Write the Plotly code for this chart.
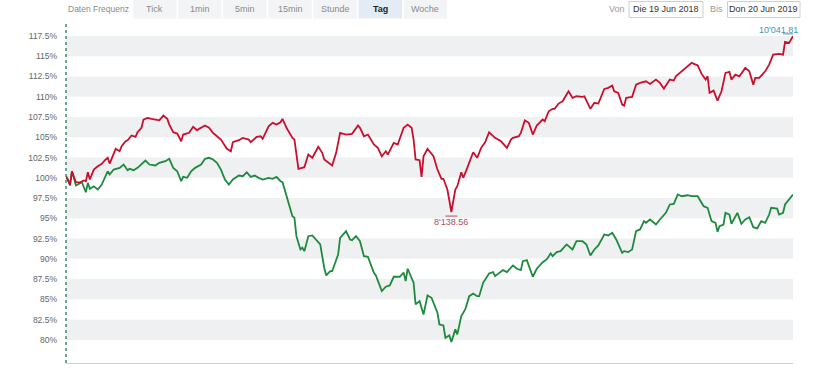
import pandas as pd
import plotly.graph_objects as go

# ---------------- data ----------------
start_date = "2018-06-19"

red_days = [0, 2, 3, 5, 7, 9, 10, 11, 12, 14, 16, 18, 20, 21, 22, 24, 25, 27, 28, 30, 31, 33, 35, 36, 38, 39, 41, 43, 46, 47,
            49, 51, 52, 54, 56, 58, 59, 62, 64, 66, 67, 70, 72, 74, 76, 78, 81, 83, 84, 87, 89, 92, 93, 96, 98, 99, 102, 104,
            106, 108, 109, 111, 114, 115, 117, 119, 120, 122, 124, 127, 129, 130, 134, 136, 138, 141, 144, 147, 148, 150, 152,
            155, 157, 159, 161, 162, 165, 167, 170, 172, 174, 175, 176, 178, 179, 180, 182, 185, 187, 189, 190, 192, 194, 196,
            197, 199, 200, 202, 205, 207, 209, 211, 213, 216, 219, 222, 224, 225, 228, 229, 231, 233, 235, 237, 240, 241, 243,
            245, 246, 248, 250, 253, 255, 257, 260, 261, 264, 266, 268, 271, 273, 275, 276, 278, 280, 281, 282, 285, 287, 289,
            292, 294, 297, 299, 301, 304, 306, 307, 310, 313, 315, 317, 318, 320, 322, 323, 324, 326, 328, 330, 332, 334, 335,
            337, 339, 342, 344, 346, 347, 349, 352, 354, 356, 359, 361, 362, 364, 366]
red_vals = [100.20, 99.17, 100.81, 99.46, 99.42, 99.67, 99.58, 100.69, 99.79, 101.02, 101.43, 101.73, 102.26, 102.47, 101.76,
            103.08, 103.58, 103.28, 103.90, 104.51, 104.64, 105.22, 105.06, 105.62, 106.17, 107.19, 107.40, 107.27, 107.19,
            107.10, 107.68, 107.27, 106.57, 105.62, 105.46, 104.51, 105.34, 105.55, 106.29, 105.87, 106.04, 106.45, 106.17,
            105.55, 105.13, 104.72, 103.58, 103.28, 104.39, 104.64, 104.93, 104.72, 104.39, 105.06, 105.13, 104.81, 106.36,
            106.78, 106.57, 106.86, 107.27, 106.17, 104.93, 104.72, 101.11, 101.23, 101.31, 102.87, 102.47, 103.82, 103.08,
            102.26, 101.52, 103.08, 105.55, 105.34, 105.43, 106.45, 106.17, 105.13, 105.34, 104.11, 103.70, 102.66, 103.28,
            102.87, 104.32, 104.11, 106.17, 106.57, 106.17, 104.72, 102.26, 102.17, 100.12, 102.66, 103.58, 102.66, 101.02,
            99.88, 99.88, 98.56, 95.78, 98.56, 98.96, 100.69, 100.00, 101.23, 103.16, 102.47, 103.70, 104.39, 105.62, 104.93,
            104.51, 103.70, 104.72, 104.93, 105.13, 105.55, 107.10, 106.78, 105.34, 106.45, 107.19, 106.98, 108.21, 108.51,
            108.51, 109.16, 109.44, 110.68, 109.86, 110.06, 109.99, 110.06, 108.51, 109.25, 109.16, 110.97, 111.10, 111.38,
            110.68, 110.48, 109.04, 108.91, 109.86, 109.99, 111.50, 111.71, 111.91, 111.59, 112.12, 111.71, 111.01, 112.12,
            112.00, 112.53, 113.14, 113.76, 114.18, 113.97, 113.88, 112.82, 112.12, 112.53, 110.48, 110.76, 109.53, 110.68,
            112.95, 113.07, 112.12, 112.74, 112.53, 113.56, 113.14, 111.50, 112.33, 112.33, 113.14, 113.97, 115.20, 115.29,
            115.20, 116.77, 116.65, 117.46]

green_days = [0, 1, 2, 3, 5, 7, 8, 10, 11, 12, 14, 16, 18, 21, 22, 24, 27, 29, 31, 32, 34, 36, 38, 40, 42, 45, 47, 50, 52, 54,
              56, 58, 59, 61, 63, 65, 68, 70, 72, 74, 76, 78, 80, 82, 84, 87, 89, 91, 93, 95, 97, 99, 102, 104, 106, 108, 109,
              112, 114, 115, 116, 118, 119, 120, 122, 124, 126, 128, 130, 131, 133, 134, 137, 138, 141, 143, 144, 146, 148, 150,
              152, 155, 156, 159, 161, 163, 165, 168, 170, 171, 172, 175, 176, 178, 180, 182, 184, 187, 188, 190, 191, 193, 194,
              196, 197, 199, 201, 203, 205, 207, 208, 210, 213, 215, 216, 218, 220, 222, 225, 227, 229, 230, 232, 235, 237, 240,
              242, 244, 245, 247, 249, 252, 255, 257, 260, 262, 264, 266, 268, 271, 273, 275, 277, 280, 281, 283, 285, 287, 289,
              291, 292, 294, 297, 299, 302, 304, 306, 308, 310, 313, 315, 318, 319, 321, 323, 325, 327, 328, 329, 331, 332, 334,
              335, 337, 338, 340, 342, 344, 346, 348, 350, 352, 354, 355, 358, 359, 361, 362, 364, 366]
green_vals = [100.20, 99.79, 99.05, 100.81, 99.05, 99.30, 99.46, 98.22, 99.38, 98.64, 98.96, 98.56, 99.17, 100.81, 100.41,
              101.02, 101.23, 101.64, 100.94, 101.11, 100.94, 101.23, 101.64, 102.13, 101.64, 101.52, 101.85, 102.05, 102.34,
              101.23, 100.81, 99.58, 100.12, 100.00, 100.81, 101.23, 101.64, 102.34, 102.47, 102.26, 101.85, 101.02, 99.79,
              99.17, 99.79, 100.28, 100.20, 100.69, 100.12, 100.28, 100.00, 99.79, 100.00, 99.88, 100.12, 99.58, 99.46, 97.11,
              95.27, 95.07, 92.80, 91.16, 91.37, 90.95, 92.80, 92.89, 92.39, 91.78, 88.90, 87.95, 88.48, 88.48, 90.54, 92.60,
              93.42, 92.39, 92.31, 92.80, 92.18, 90.33, 90.26, 88.29, 87.95, 86.02, 86.56, 86.72, 87.79, 87.79, 88.29, 87.25,
              88.78, 87.05, 84.38, 84.78, 83.14, 85.49, 85.20, 83.35, 81.91, 81.79, 80.27, 80.56, 79.73, 81.30, 80.68, 82.94,
              83.76, 85.40, 85.73, 85.40, 85.40, 87.05, 88.20, 88.36, 87.87, 88.29, 88.61, 88.36, 89.19, 88.78, 88.61, 89.72,
              89.84, 87.79, 88.78, 89.59, 89.93, 90.67, 90.33, 90.83, 90.95, 91.78, 91.16, 92.18, 92.18, 91.78, 90.42, 91.16,
              91.65, 93.01, 92.89, 93.22, 92.39, 90.75, 90.95, 90.83, 91.16, 93.42, 93.63, 94.65, 94.45, 94.86, 94.24, 94.86,
              95.68, 96.71, 96.79, 97.94, 97.73, 97.85, 97.73, 97.73, 97.32, 96.50, 96.30, 94.65, 94.45, 93.34, 94.03, 94.24,
              95.68, 95.47, 94.33, 95.27, 95.68, 94.33, 94.86, 95.14, 93.91, 93.75, 94.65, 94.45, 95.47, 96.30, 96.21, 95.47,
              95.68, 96.71, 97.32, 97.94]

tick_vals = [80, 82.5, 85, 87.5, 90, 92.5, 95, 97.5, 100, 102.5, 105, 107.5, 110, 112.5, 115, 117.5]
tick_text = ["80%", "82.5%", "85%", "87.5%", "90%", "92.5%", "95%", "97.5%", "100%", "102.5%", "105%", "107.5%",
             "110%", "112.5%", "115%", "117.5%"]
band_lows = [80, 85, 90, 95, 100, 105, 110, 115]

min_label = "8'138.56"
max_label = "10'041.81"
freq_label = "Daten Frequenz"
freq_buttons = ["Tick", "1min", "5min", "15min", "Stunde", "Tag", "Woche"]
active_button = "Tag"
from_label, from_value = "Von", "Die 19 Jun 2018"
to_label, to_value = "Bis", "Don 20 Jun 2019"

# ---------------- figure ----------------
t0 = pd.Timestamp(start_date)
red_x = [t0 + pd.Timedelta(days=d) for d in red_days]
green_x = [t0 + pd.Timedelta(days=d) for d in green_days]

RED = "#c8102e"
GREEN = "#1e8a3e"
FONT = "Arial, Liberation Sans, sans-serif"

W, H = 830, 375
L, R, T, B = 66, 793, 21, 363


def px(x):
    return (x - L) / (R - L)


def py(y):
    return (B - y) / (B - T)


fig = go.Figure()
fig.add_trace(go.Scatter(x=green_x, y=green_vals, mode="lines",
                         line=dict(color=GREEN, width=1.8), hoverinfo="skip", showlegend=False))
fig.add_trace(go.Scatter(x=red_x, y=red_vals, mode="lines",
                         line=dict(color=RED, width=1.8), hoverinfo="skip", showlegend=False))

shapes = []
for lo in band_lows:
    shapes.append(dict(type="rect", xref="paper", yref="y", x0=0, x1=1, y0=lo, y1=lo + 2.5,
                       fillcolor="#eff0f2", line=dict(width=0), layer="below"))
# dashed start line
shapes.append(dict(type="line", xref="paper", yref="paper", x0=0, x1=0, y0=0, y1=py(22),
                   line=dict(color="#3a8a6c", width=1.5, dash="3px,3px")))

annotations = []
# min / max markers
i_min = red_vals.index(min(red_vals))
i_max = red_vals.index(max(red_vals))
xmin = red_x[i_min]
xmax = red_x[i_max]
shapes.append(dict(type="line", xref="x", yref="y", x0=xmin - pd.Timedelta(days=3), x1=xmin + pd.Timedelta(days=3),
                   y0=red_vals[i_min] - 0.5, y1=red_vals[i_min] - 0.5, line=dict(color="#b24a60", width=1)))
shapes.append(dict(type="line", xref="x", yref="y", x0=xmax - pd.Timedelta(days=5), x1=xmax + pd.Timedelta(days=2),
                   y0=red_vals[i_max] + 0.3, y1=red_vals[i_max] + 0.3, line=dict(color="#4a90b8", width=1)))
annotations.append(dict(x=xmin, y=red_vals[i_min], xref="x", yref="y", text=min_label, showarrow=False,
                        yanchor="top", yshift=-3, font=dict(family=FONT, size=9, color="#b24a60")))
annotations.append(dict(x=xmax, y=red_vals[i_max], xref="x", yref="y", text=max_label, showarrow=False,
                        xanchor="right", xshift=7, yanchor="bottom", yshift=-1,
                        font=dict(family=FONT, size=9, color="#4a90b8")))

# toolbar
annotations.append(dict(x=px(66), y=py(9.5), xref="paper", yref="paper", text=freq_label, showarrow=False,
                        xanchor="left", yanchor="middle", font=dict(family=FONT, size=8.5, color="#8a8a8a")))
bx0, bw, bstep = 133, 43.5, 45.1
for i, lab in enumerate(freq_buttons):
    x0 = bx0 + i * bstep
    active = lab == active_button
    shapes.append(dict(type="rect", xref="paper", yref="paper", x0=px(x0), x1=px(x0 + bw), y0=py(18.5), y1=py(0),
                       fillcolor="#e3ecf5" if active else "#f3f4f5", line=dict(width=0)))
    annotations.append(dict(x=px(x0 + bw / 2), y=py(9), xref="paper", yref="paper",
                            text=f"<b>{lab}</b>" if active else lab, showarrow=False,
                            xanchor="center", yanchor="middle",
                            font=dict(family=FONT, size=9, color="#222" if active else "#8a8a8a")))

for lab, val, lx, b0, b1 in [(from_label, from_value, 617, 629, 703), (to_label, to_value, 716.5, 727.5, 800)]:
    annotations.append(dict(x=px(lx), y=py(9), xref="paper", yref="paper", text=lab, showarrow=False,
                            xanchor="center", yanchor="middle", font=dict(family=FONT, size=9, color="#999")))
    shapes.append(dict(type="rect", xref="paper", yref="paper", x0=px(b0), x1=px(b1), y0=py(17.5), y1=py(1.5),
                       fillcolor="white", line=dict(color="#cfcfcf", width=1)))
    annotations.append(dict(x=px((b0 + b1) / 2), y=py(9.5), xref="paper", yref="paper", text=val, showarrow=False,
                            xanchor="center", yanchor="middle", font=dict(family=FONT, size=9, color="#333")))

fig.update_layout(
    width=W, height=H,
    margin=dict(l=L, r=W - R, t=T, b=H - B, pad=0),
    paper_bgcolor="white", plot_bgcolor="white",
    shapes=shapes, annotations=annotations,
    font=dict(family=FONT, size=9, color="#666"),
    xaxis=dict(range=[t0, red_x[-1]], showgrid=False, zeroline=False, showticklabels=False,
               showline=True, linecolor="#d0d3d8", linewidth=1, ticks="", automargin=False),
    yaxis=dict(range=[77.15, 119.35], tickvals=tick_vals, ticktext=tick_text, showgrid=False, zeroline=False,
               showline=False, ticks="", ticklabelstandoff=8, automargin=False,
               tickfont=dict(family=FONT, size=8.5, color="#666")),
    hovermode=False,
)

fig.write_html("out.html", config={"displayModeBar": False, "staticPlot": True},
               post_script="document.body.style.margin='0px';document.body.style.overflow='hidden';")
